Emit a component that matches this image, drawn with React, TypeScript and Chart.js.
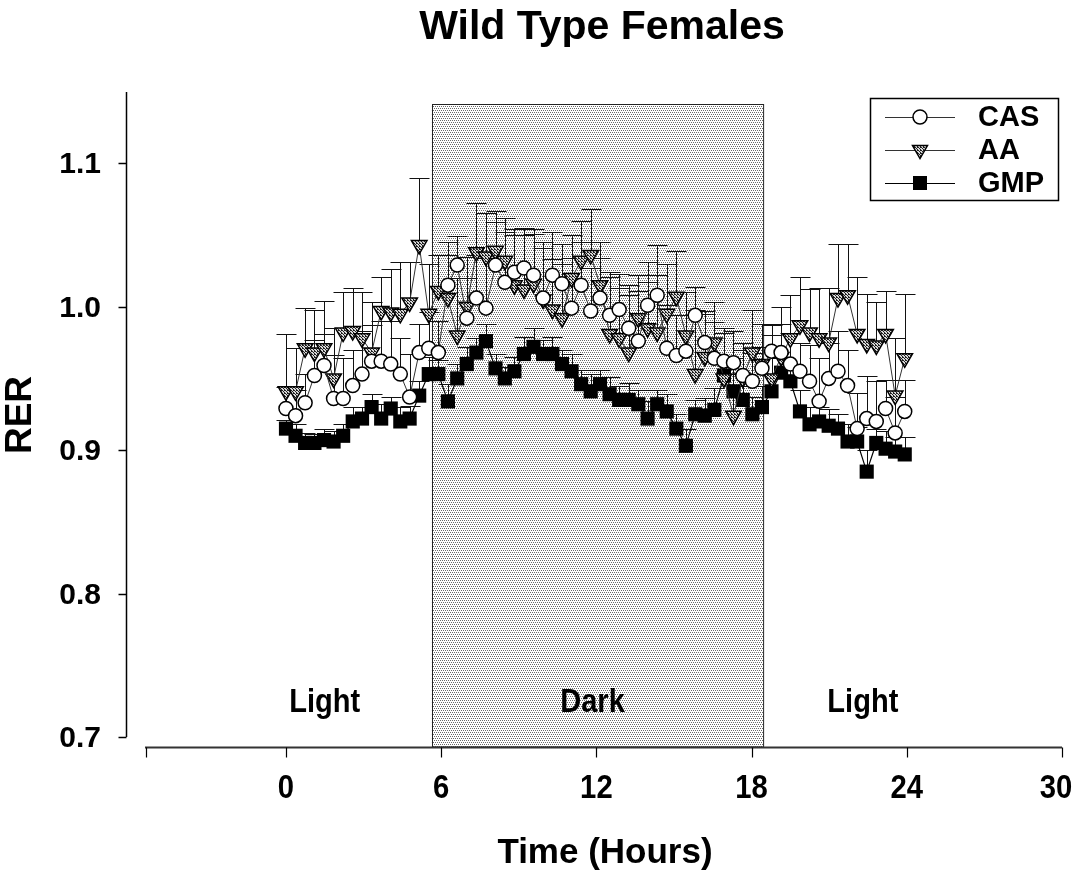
import React, { useEffect, useRef } from "react";
import { Chart, registerables } from "chart.js";
Chart.register(...registerables);

const TITLE = "Wild Type Females";
const X_TITLE = "Time (Hours)";
const Y_TITLE = "RER";
const SERIES_NAMES = ["CAS", "AA", "GMP"];
const xTicks = [0, 6, 12, 18, 24, 30];
const yTicks = [0.7, 0.8, 0.9, 1.0, 1.1];
const yTickLabels = ["0.7", "0.8", "0.9", "1.0", "1.1"];
const periodLabels = ["Light", "Dark", "Light"];
const periodLabelX = [1.5, 11.85, 22.3];
const periodLabelY = 0.724;
const darkStart = 5.64;
const darkEnd = 18.44;
const darkTop = 1.141;

const times = [0, 0.37, 0.74, 1.1, 1.47, 1.84, 2.21, 2.58, 2.94, 3.31, 3.68, 4.05, 4.42, 4.78, 5.15, 5.52, 5.89, 6.26, 6.62, 6.99, 7.36, 7.73, 8.1, 8.46, 8.83, 9.2, 9.57, 9.94, 10.3, 10.67, 11.04, 11.41, 11.78, 12.14, 12.51, 12.88, 13.25, 13.62, 13.98, 14.35, 14.72, 15.09, 15.46, 15.82, 16.19, 16.56, 16.93, 17.3, 17.66, 18.03, 18.4, 18.77, 19.14, 19.5, 19.87, 20.24, 20.61, 20.98, 21.34, 21.71, 22.08, 22.45, 22.82, 23.18, 23.55, 23.92];

const casMean = [0.929, 0.924, 0.933, 0.952, 0.959, 0.936, 0.936, 0.945, 0.953, 0.962, 0.962, 0.96, 0.953, 0.937, 0.968, 0.971, 0.968, 1.015, 1.029, 0.992, 1.006, 0.999, 1.029, 1.017, 1.024, 1.027, 1.022, 1.006, 1.022, 1.016, 0.999, 1.015, 0.997, 1.006, 0.994, 0.998, 0.985, 0.976, 1.001, 1.008, 0.971, 0.966, 0.969, 0.994, 0.975, 0.964, 0.962, 0.961, 0.952, 0.948, 0.957, 0.969, 0.968, 0.96, 0.955, 0.948, 0.934, 0.95, 0.955, 0.945, 0.915, 0.922, 0.92, 0.929, 0.912, 0.927];
const casErr = [0.015, 0.018, 0.02, 0.025, 0.022, 0.03, 0.028, 0.025, 0.03, 0.025, 0.028, 0.03, 0.025, 0.03, 0.02, 0.025, 0.022, 0.03, 0.02, 0.028, 0.03, 0.035, 0.03, 0.035, 0.03, 0.028, 0.032, 0.035, 0.03, 0.028, 0.035, 0.03, 0.03, 0.028, 0.03, 0.025, 0.03, 0.035, 0.03, 0.035, 0.03, 0.028, 0.025, 0.02, 0.022, 0.025, 0.02, 0.022, 0.018, 0.02, 0.015, 0.018, 0.02, 0.022, 0.02, 0.025, 0.03, 0.025, 0.028, 0.025, 0.025, 0.03, 0.028, 0.02, 0.025, 0.022];

const aaMean = [0.941, 0.941, 0.971, 0.968, 0.971, 0.95, 0.982, 0.983, 0.978, 0.968, 0.997, 0.996, 0.995, 1.003, 1.043, 0.995, 1.011, 1.006, 0.98, 1.0, 1.038, 1.035, 1.039, 1.032, 1.015, 1.012, 1.016, 1.005, 0.998, 0.992, 1.02, 1.032, 1.036, 1.015, 0.981, 0.978, 0.968, 0.992, 0.985, 0.982, 0.995, 1.007, 0.98, 0.953, 0.965, 0.975, 0.95, 0.924, 0.95, 0.968, 0.96, 0.95, 0.965, 0.978, 0.987, 0.982, 0.978, 0.975, 1.006, 1.008, 0.981, 0.974, 0.973, 0.981, 0.938, 0.964];
const aaErr = [0.04, 0.03, 0.028, 0.03, 0.033, 0.035, 0.028, 0.03, 0.032, 0.035, 0.024, 0.03, 0.036, 0.028, 0.047, 0.035, 0.025, 0.03, 0.04, 0.035, 0.034, 0.03, 0.028, 0.03, 0.035, 0.038, 0.035, 0.04, 0.035, 0.038, 0.03, 0.028, 0.032, 0.03, 0.04, 0.035, 0.04, 0.03, 0.032, 0.04, 0.035, 0.032, 0.03, 0.045, 0.03, 0.028, 0.035, 0.04, 0.025, 0.03, 0.028, 0.03, 0.035, 0.03, 0.034, 0.03, 0.035, 0.038, 0.038, 0.036, 0.04, 0.035, 0.03, 0.03, 0.04, 0.045];

const gmpMean = [0.915, 0.91, 0.905, 0.905, 0.907, 0.906, 0.91, 0.92, 0.922, 0.93, 0.922, 0.929, 0.92, 0.922, 0.938, 0.953, 0.953, 0.934, 0.95, 0.96, 0.968, 0.976, 0.957, 0.95, 0.955, 0.967, 0.972, 0.967, 0.967, 0.96, 0.955, 0.946, 0.941, 0.946, 0.939, 0.935, 0.935, 0.932, 0.922, 0.932, 0.927, 0.915, 0.903, 0.925, 0.924, 0.928, 0.952, 0.941, 0.935, 0.925, 0.93, 0.941, 0.954, 0.948, 0.927, 0.918, 0.92, 0.917, 0.915, 0.906, 0.906, 0.885, 0.905, 0.901, 0.899, 0.897];
const gmpErr = [0.006, 0.008, 0.007, 0.006, 0.008, 0.007, 0.008, 0.01, 0.008, 0.009, 0.01, 0.008, 0.01, 0.009, 0.01, 0.012, 0.01, 0.012, 0.01, 0.012, 0.01, 0.012, 0.01, 0.008, 0.01, 0.012, 0.013, 0.01, 0.012, 0.01, 0.012, 0.01, 0.012, 0.01, 0.012, 0.01, 0.012, 0.01, 0.012, 0.01, 0.012, 0.01, 0.012, 0.01, 0.012, 0.015, 0.01, 0.012, 0.01, 0.012, 0.015, 0.012, 0.01, 0.012, 0.015, 0.012, 0.01, 0.012, 0.01, 0.012, 0.01, 0.015, 0.01, 0.012, 0.01, 0.012];

const SANS = "'Liberation Sans', Arial, sans-serif";

function makePattern(size: number, dots: [number, number][], color: string, bg: string) {
  const c = document.createElement("canvas");
  c.width = size;
  c.height = size;
  const g = c.getContext("2d")!;
  g.fillStyle = bg;
  g.fillRect(0, 0, size, size);
  g.fillStyle = color;
  dots.forEach(([x, y]) => g.fillRect(x, y, 1, 1));
  return g.createPattern(c, "repeat")!;
}

function condensedText(ctx: CanvasRenderingContext2D, s: string, x: number, y: number, sx: number) {
  ctx.save();
  ctx.translate(x, y);
  ctx.scale(sx, 1);
  ctx.fillText(s, 0, 0);
  ctx.restore();
}

export default function App() {
  const ref = useRef<HTMLCanvasElement | null>(null);
  useEffect(() => {
    const canvas = ref.current!;
    const ctx0 = canvas.getContext("2d")!;
    const darkPattern = makePattern(4, [[0, 0], [2, 0], [1, 2], [3, 2]], "#6a6a6a", "#ffffff");
    const triPattern = makePattern(3, [[0, 0], [1, 1], [2, 2], [2, 0]], "#222222", "#d8d8d8");

    const mk = (arr: number[]) => times.map((t, i) => ({ x: t, y: arr[i] }));
    const errs = [casErr, aaErr, gmpErr];
    const means = [casMean, aaMean, gmpMean];

    const decor = {
      id: "decor",
      beforeDatasetsDraw(chart: any) {
        const { ctx, scales } = chart;
        const xs = scales.x, ys = scales.y;
        const l = xs.getPixelForValue(darkStart), r = xs.getPixelForValue(darkEnd);
        const t = ys.getPixelForValue(darkTop), b = chart.chartArea.bottom;
        ctx.save();
        ctx.fillStyle = darkPattern;
        ctx.fillRect(l, t, r - l, b - t);
        ctx.strokeStyle = "#222";
        ctx.lineWidth = 1;
        ctx.strokeRect(Math.round(l) + 0.5, Math.round(t) + 0.5, r - l, b - t);
        ctx.strokeStyle = "#111";
        ctx.lineWidth = 1;
        [2, 1, 0].forEach((d) => {
          const m = means[d], e = errs[d];
          times.forEach((tm, i) => {
            const x = Math.round(xs.getPixelForValue(tm)) + 0.5;
            const y0 = ys.getPixelForValue(m[i]);
            const y1 = Math.round(ys.getPixelForValue(m[i] + (e[i] ?? 0))) + 0.5;
            ctx.beginPath();
            ctx.moveTo(x, y0);
            ctx.lineTo(x, y1);
            ctx.moveTo(x - 10, y1);
            ctx.lineTo(x + 10, y1);
            ctx.stroke();
          });
        });
        ctx.restore();
      },
      afterDraw(chart: any) {
        const { ctx, scales, chartArea } = chart;
        const xs = scales.x, ys = scales.y;
        ctx.save();
        ctx.fillStyle = "#000";
        ctx.strokeStyle = "#000";
        const yAxisX = 126.5;
        ctx.lineWidth = 1.5;
        ctx.beginPath();
        ctx.moveTo(yAxisX, chartArea.top);
        ctx.lineTo(yAxisX, ys.getPixelForValue(0.7));
        ctx.stroke();
        ctx.font = `bold 30px ${SANS}`;
        ctx.textAlign = "right";
        ctx.textBaseline = "middle";
        yTicks.forEach((v, i) => {
          const y = Math.round(ys.getPixelForValue(v)) + 0.5;
          ctx.beginPath();
          ctx.moveTo(yAxisX - 8, y);
          ctx.lineTo(yAxisX, y);
          ctx.stroke();
          ctx.fillText(yTickLabels[i], 101, y + 1);
        });
        const axY = chartArea.bottom + 0.5;
        ctx.lineWidth = 2;
        ctx.strokeStyle = "#333";
        ctx.beginPath();
        ctx.moveTo(chartArea.left, axY);
        ctx.lineTo(chartArea.right, axY);
        ctx.stroke();
        ctx.lineWidth = 1.2;
        ctx.strokeStyle = "#000";
        const tickXs = [chartArea.left + 1].concat(xTicks.map((v) => xs.getPixelForValue(v)));
        tickXs.forEach((x) => {
          ctx.beginPath();
          ctx.moveTo(Math.round(x) + 0.5, axY);
          ctx.lineTo(Math.round(x) + 0.5, axY + 10);
          ctx.stroke();
        });
        ctx.font = `bold 34px ${SANS}`;
        ctx.textAlign = "center";
        ctx.textBaseline = "middle";
        xTicks.forEach((v) => {
          const px = Math.min(xs.getPixelForValue(v), 1056);
          condensedText(ctx, String(v), px, 789, 0.86);
        });
        ctx.font = `bold 33px ${SANS}`;
        periodLabels.forEach((s, i) => {
          condensedText(ctx, s, xs.getPixelForValue(periodLabelX[i]), ys.getPixelForValue(periodLabelY), 0.88);
        });
        ctx.font = `bold 41px ${SANS}`;
        ctx.fillText(TITLE, 602, 28);
        ctx.font = `bold 35px ${SANS}`;
        ctx.fillText(X_TITLE, 605, 853);
        ctx.save();
        ctx.translate(21, 415);
        ctx.rotate(-Math.PI / 2);
        ctx.font = `bold 37px ${SANS}`;
        ctx.fillText(Y_TITLE, 0, 0);
        ctx.restore();
        ctx.lineWidth = 1.5;
        ctx.strokeRect(870.5, 98.5, 188, 102);
        const rows = [117, 150, 183];
        rows.forEach((ry, i) => {
          ctx.lineWidth = 1;
          ctx.strokeStyle = i === 2 ? "#000" : "#333";
          ctx.beginPath();
          ctx.moveTo(885, ry + 0.5);
          ctx.lineTo(955, ry + 0.5);
          ctx.stroke();
          ctx.strokeStyle = "#000";
          const mx = 920;
          if (i === 0) {
            ctx.beginPath();
            ctx.arc(mx, ry, 7, 0, Math.PI * 2);
            ctx.fillStyle = "#fff";
            ctx.fill();
            ctx.lineWidth = 1.5;
            ctx.stroke();
          } else if (i === 1) {
            ctx.beginPath();
            ctx.moveTo(mx - 7.5, ry - 4.5);
            ctx.lineTo(mx + 7.5, ry - 4.5);
            ctx.lineTo(mx, ry + 8.5);
            ctx.closePath();
            ctx.fillStyle = triPattern;
            ctx.fill();
            ctx.lineWidth = 1.5;
            ctx.stroke();
          } else {
            ctx.fillStyle = "#000";
            ctx.fillRect(mx - 7, ry - 7, 14, 14);
          }
          ctx.fillStyle = "#000";
          ctx.font = `bold 29px ${SANS}`;
          ctx.textAlign = "left";
          ctx.textBaseline = "middle";
          ctx.fillText(SERIES_NAMES[i], 978, ry + 1);
        });
        ctx.restore();
      },
    };

    const chart = new Chart(ctx0, {
      type: "line",
      data: {
        datasets: [
          {
            label: SERIES_NAMES[0],
            data: mk(casMean),
            borderColor: "#333",
            borderWidth: 1,
            pointStyle: "circle",
            pointRadius: 7,
            pointBackgroundColor: "#fff",
            pointBorderColor: "#000",
            pointBorderWidth: 1.5,
            order: 0,
          },
          {
            label: SERIES_NAMES[1],
            data: mk(aaMean),
            borderColor: "#333",
            borderWidth: 1,
            pointStyle: "triangle",
            pointRotation: 180,
            pointRadius: 9,
            pointBackgroundColor: triPattern,
            pointBorderColor: "#000",
            pointBorderWidth: 1.5,
            order: 1,
          },
          {
            label: SERIES_NAMES[2],
            data: mk(gmpMean),
            borderColor: "#000",
            borderWidth: 1.2,
            pointStyle: "rect",
            pointRadius: 10,
            pointBackgroundColor: "#000",
            pointBorderColor: "#000",
            pointBorderWidth: 0,
            order: 2,
          },
        ],
      },
      options: {
        animation: false,
        responsive: false,
        layout: { padding: { left: 145, right: 16, top: 92, bottom: 124 } },
        plugins: { legend: { display: false }, tooltip: { enabled: false }, title: { display: false } },
        scales: {
          x: { type: "linear", min: -5.45, max: 30, display: false },
          y: { type: "linear", min: 0.693, max: 1.1497, display: false },
        },
        elements: { line: { tension: 0 } },
      },
      plugins: [decor],
    });
    return () => chart.destroy();
  }, []);
  return (
    <div style={{ position: "absolute", left: 0, top: 0, width: 1078, height: 871, background: "#fff" }}>
      <canvas ref={ref} width={1078} height={871} style={{ display: "block" }} />
    </div>
  );
}
